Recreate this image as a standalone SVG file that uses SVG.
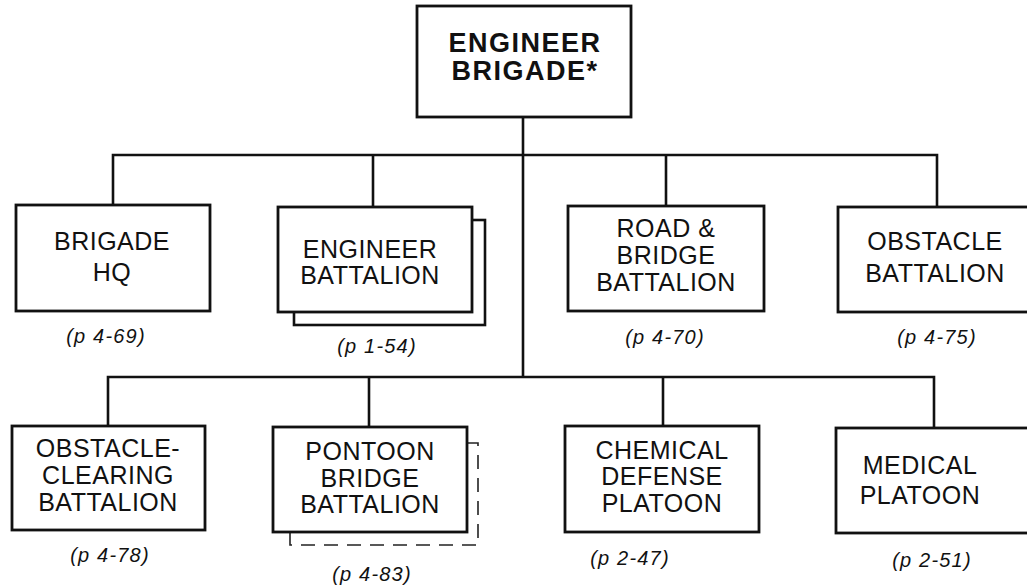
<svg xmlns="http://www.w3.org/2000/svg" width="1027" height="586" viewBox="0 0 1027 586">
<style>
.box{fill:#fff;stroke:#111;stroke-width:2.8}
.shadow{fill:#fff;stroke:#111;stroke-width:2.6}
.dash{fill:none;stroke:#222;stroke-width:1.6;stroke-dasharray:14 9}
.ln{fill:none;stroke:#111;stroke-width:2.6}
.t{font-family:"Liberation Sans",Arial,sans-serif;font-size:25px;letter-spacing:0.5px;text-anchor:middle;fill:#111}
.tb{font-family:"Liberation Sans",Arial,sans-serif;font-size:27px;font-weight:bold;letter-spacing:1.5px;text-anchor:middle;fill:#111}
.p{font-family:"Liberation Sans",Arial,sans-serif;font-size:20px;font-style:italic;letter-spacing:1.2px;text-anchor:middle;fill:#111}
</style>
<rect width="1027" height="586" fill="#fff"/>
<g id="connectors">
<path class="ln" d="M523,117 V377"/>
<path class="ln" d="M113,205 V155 H937 V207"/>
<path class="ln" d="M373,155 V207"/>
<path class="ln" d="M666,155 V206"/>
<path class="ln" d="M108,426 V377 H934 V428"/>
<path class="ln" d="M369,377 V427"/>
<path class="ln" d="M663,377 V426"/>
</g>
<g id="engineer-brigade">
<rect class="box" x="417" y="6" width="214" height="111"/>
<text class="tb" x="525" y="52">ENGINEER</text>
<text class="tb" x="525" y="80">BRIGADE*</text>
</g>
<g id="brigade-hq">
<rect class="box" x="16" y="205" width="194" height="106"/>
<text class="t" x="112" y="250">BRIGADE</text>
<text class="t" x="112" y="281">HQ</text>
<text class="p" x="106" y="343">(p 4-69)</text>
</g>
<g id="engineer-battalion">
<rect class="shadow" x="294" y="220" width="191" height="105"/>
<rect class="box" x="278" y="207" width="194" height="105"/>
<text class="t" x="370" y="258">ENGINEER</text>
<text class="t" x="370" y="284">BATTALION</text>
<text class="p" x="377" y="353">(p 1-54)</text>
</g>
<g id="road-bridge-battalion">
<rect class="box" x="568" y="206" width="196" height="105"/>
<text class="t" x="666" y="237">ROAD &amp;</text>
<text class="t" x="666" y="264">BRIDGE</text>
<text class="t" x="666" y="291">BATTALION</text>
<text class="p" x="665" y="344">(p 4-70)</text>
</g>
<g id="obstacle-battalion">
<rect class="box" x="838" y="207" width="200" height="105"/>
<text class="t" x="935" y="250">OBSTACLE</text>
<text class="t" x="935" y="282">BATTALION</text>
<text class="p" x="937" y="344">(p 4-75)</text>
</g>
<g id="obstacle-clearing-battalion">
<rect class="box" x="12" y="426" width="193" height="104"/>
<text class="t" x="108" y="457">OBSTACLE-</text>
<text class="t" x="108" y="484">CLEARING</text>
<text class="t" x="108" y="511">BATTALION</text>
<text class="p" x="110" y="562">(p 4-78)</text>
</g>
<g id="pontoon-bridge-battalion">
<path class="dash" d="M467,443 H478 V545 H290 V532"/>
<rect class="box" x="273" y="427" width="194" height="105"/>
<text class="t" x="370" y="460">PONTOON</text>
<text class="t" x="370" y="487">BRIDGE</text>
<text class="t" x="370" y="513">BATTALION</text>
<text class="p" x="372" y="581">(p 4-83)</text>
</g>
<g id="chemical-defense-platoon">
<rect class="box" x="565" y="426" width="194" height="106"/>
<text class="t" x="662" y="459">CHEMICAL</text>
<text class="t" x="662" y="485">DEFENSE</text>
<text class="t" x="662" y="512">PLATOON</text>
<text class="p" x="630" y="565">(p 2-47)</text>
</g>
<g id="medical-platoon">
<rect class="box" x="836" y="428" width="200" height="105"/>
<text class="t" x="920" y="474">MEDICAL</text>
<text class="t" x="920" y="504">PLATOON</text>
<text class="p" x="932" y="567">(p 2-51)</text>
</g>
</svg>
